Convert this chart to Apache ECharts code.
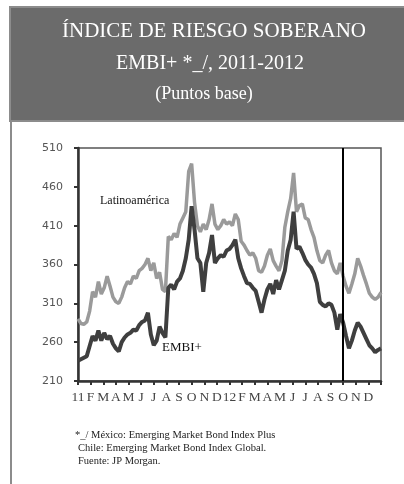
<!DOCTYPE html>
<html>
<head>
<meta charset="utf-8">
<script src="https://cdn.jsdelivr.net/npm/echarts@6/dist/echarts.min.js"></script>
<style>
html,body{margin:0;padding:0;background:#fff;}
#chart{width:404px;height:484px;}
</style>
</head>
<body>
<div id="chart"></div>
<script>
// ---- Data (weekly readings, Jan 2011 - Dec 2012, puntos base) ----
var MONTH_LABELS = ['11','F','M','A','M','J','J','A','S','O','N','D','12','F','M','A','M','J','J','A','S','O','N','D',''];
var Y_TICKS = ['210','260','310','360','410','460','510'];
var LATAM = [290,284,283,286,300,325,318,338,322,330,345,332,318,312,310,318,330,338,335,345,342,352,355,360,368,352,362,342,350,328,325,396,392,400,395,412,420,428,480,490,440,410,402,412,405,418,438,412,405,410,418,412,415,410,425,418,390,385,378,372,375,368,352,350,358,372,380,365,358,352,365,408,428,445,478,428,436,438,420,418,405,395,378,365,362,372,378,362,352,348,362,345,332,323,335,348,368,358,346,335,323,318,315,318,324];
var EMBI = [236,238,240,242,255,268,262,275,262,272,264,268,258,252,248,260,266,270,272,276,275,282,286,288,298,270,256,262,280,272,266,330,334,328,338,342,352,368,392,435,405,368,362,325,362,375,398,362,368,372,370,378,380,385,392,368,355,345,336,335,330,326,312,298,315,328,335,322,340,328,340,352,378,392,428,380,383,375,366,360,356,348,336,312,308,306,310,308,298,276,296,285,268,252,262,275,285,280,272,264,256,252,247,250,252];
var VLINE_WEEK = 91; // start of October 2012
var LABEL_LATAM = 'Latinoamérica';
var LABEL_EMBI = 'EMBI+';
var TITLE = ['ÍNDICE DE RIESGO SOBERANO', 'EMBI+ *_/, 2011-2012', '(Puntos base)'];
var NOTES = ['*_/ México: Emerging Market Bond Index Plus', 'Chile: Emerging Market Bond Index Global.', 'Fuente: JP Morgan.'];

var WEEKS = [];
for (var i = 0; i < LATAM.length; i++) WEEKS.push('s' + i);

var chart = echarts.init(document.getElementById('chart'), null, {renderer: 'canvas'});
var serif = '"Liberation Serif", "DejaVu Serif", serif';

var option = {
  animation: false,
  backgroundColor: '#ffffff',
  grid: {left: 78, right: 23, top: 148, bottom: 103, show: true, borderColor: '#555', borderWidth: 1.5, backgroundColor: 'transparent'},
  xAxis: [
    {type: 'category', data: WEEKS, boundaryGap: false, show: false},
    {type: 'category', data: MONTH_LABELS, boundaryGap: false, position: 'bottom',
     axisLine: {show: true, lineStyle: {color: '#333', width: 2.5}},
     axisTick: {show: true, inside: false, length: 4, interval: 0, lineStyle: {color: '#333', width: 2}},
     axisLabel: {show: true, interval: 0, margin: 9, color: '#444', fontFamily: serif, fontSize: 13.5},
     splitLine: {show: false}}
  ],
  yAxis: [
    {type: 'value', min: 210, max: 510, show: false, splitLine: {show: false}},
    {type: 'category', data: Y_TICKS, boundaryGap: false, position: 'left',
     axisLine: {show: true, lineStyle: {color: '#333', width: 2.5}},
     axisTick: {show: true, inside: false, length: 4, interval: 0, lineStyle: {color: '#333', width: 2}},
     axisLabel: {show: true, interval: 0, margin: 15, color: '#555', fontFamily: '"DejaVu Sans", sans-serif', fontSize: 11},
     splitLine: {show: false}}
  ],
  series: [
    {name: LABEL_LATAM, type: 'line', xAxisIndex: 0, yAxisIndex: 0, data: LATAM, showSymbol: false, symbol: 'none',
     lineStyle: {color: '#9a9a9a', width: 3.5}, z: 2},
    {name: LABEL_EMBI, type: 'line', xAxisIndex: 0, yAxisIndex: 0, data: EMBI, showSymbol: false, symbol: 'none',
     lineStyle: {color: '#3f3f3f', width: 4}, z: 3,
     markLine: {silent: true, symbol: ['none','none'], label: {show: false},
       lineStyle: {color: '#000', width: 2, type: 'solid'},
       data: [{xAxis: WEEKS[VLINE_WEEK]}]}}
  ],
  graphic: [
    {type: 'rect', shape: {x: 10, y: 7, width: 396, height: 114}, style: {fill: '#6b6b6b', stroke: '#8c8c8c', lineWidth: 2}, z: 0},
    {type: 'line', shape: {x1: 11, y1: 121, x2: 11, y2: 484}, style: {stroke: '#8c8c8c', lineWidth: 2}},
    {type: 'text', x: 214, y: 31, style: {text: TITLE[0], fill: '#fff', font: '21px ' + serif, textAlign: 'center', textVerticalAlign: 'middle'}},
    {type: 'text', x: 210, y: 64, style: {text: TITLE[1], fill: '#fff', font: '20px ' + serif, textAlign: 'center', textVerticalAlign: 'middle'}},
    {type: 'text', x: 204, y: 94, style: {text: TITLE[2], fill: '#fff', font: '18px ' + serif, textAlign: 'center', textVerticalAlign: 'middle'}},
    {type: 'text', x: 100, y: 201, style: {text: LABEL_LATAM, fill: '#111', font: '12px ' + serif, textVerticalAlign: 'middle'}, z: 10},
    {type: 'text', x: 162, y: 348, style: {text: LABEL_EMBI, fill: '#111', font: '13px ' + serif, textVerticalAlign: 'middle'}, z: 10},
    {type: 'text', x: 75, y: 435, style: {text: NOTES[0], fill: '#222', font: '10.5px ' + serif, textVerticalAlign: 'middle'}},
    {type: 'text', x: 78, y: 448, style: {text: NOTES[1], fill: '#222', font: '10.5px ' + serif, textVerticalAlign: 'middle'}},
    {type: 'text', x: 78, y: 461, style: {text: NOTES[2], fill: '#222', font: '10.5px ' + serif, textVerticalAlign: 'middle'}}
  ]
};
chart.setOption(option);
</script>
</body>
</html>
